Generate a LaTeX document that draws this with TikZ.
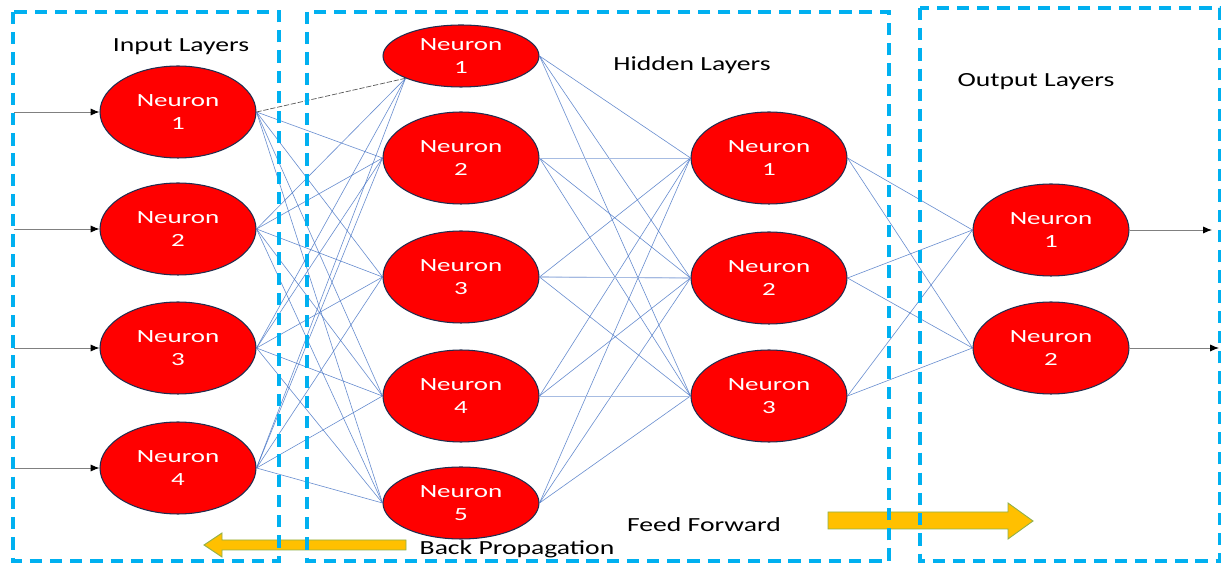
\documentclass[tikz,border=0pt]{standalone}
\usepackage{graphicx}
\usepackage{fontspec}
\setmainfont{Carlito}
\usetikzlibrary{shapes.geometric,arrows.meta}

\definecolor{nred}{HTML}{FF0000}
\definecolor{nrim}{HTML}{1F2D4F}
\definecolor{boxblue}{HTML}{00B0F0}
\definecolor{wire}{HTML}{4472C4}
\definecolor{wirelight}{HTML}{A7BCE2}
\definecolor{flowfill}{HTML}{FFC000}
\definecolor{flowrim}{HTML}{8FB04A}

% two-line neuron caption, slightly widened like the original lettering
\newcommand{\neurtxt}[1]{\scalebox{1.45}[1]{Neuron}\\\scalebox{1.45}[1]{#1}}
\newcommand{\widetxt}[1]{\scalebox{1.38}[1]{#1}}

\begin{document}
\begin{tikzpicture}[x=0.02cm,y=-0.02cm,
  neuron/.style={ellipse, draw=nrim, fill=nred, line width=0.6pt,
    minimum width=3.12cm, minimum height=1.84cm, inner sep=0pt,
    text=white, align=center, font=\fontsize{10.6}{13}\selectfont},
  layerbox/.style={draw=boxblue, line width=1.8pt, dash pattern=on 7pt off 4.5pt},
  conn/.style={draw=wire, line width=0.35pt, opacity=0.8},
  connlight/.style={draw=wirelight, line width=0.45pt},
  feed/.style={draw=black!50, line width=0.5pt,
    -{Latex[length=5pt,width=4pt,color=black]}},
  flow/.style={fill=flowfill, draw=flowrim, line width=0.5pt},
  lab/.style={anchor=base, inner sep=0pt, text=black, font=\fontsize{11.4}{13.7}\selectfont}
]
\useasboundingbox (0,0) rectangle (1221,563);

% input layer
\node[neuron] (I1) at (178,112) {\neurtxt{1}};
\node[neuron] (I2) at (178,229) {\neurtxt{2}};
\node[neuron] (I3) at (178,348) {\neurtxt{3}};
\node[neuron] (I4) at (178,468) {\neurtxt{4}};

% first hidden layer
\node[neuron, minimum height=1.24cm] (H1) at (461,56) {\neurtxt{1}};
\node[neuron] (H2) at (461,158) {\neurtxt{2}};
\node[neuron] (H3) at (461,277) {\neurtxt{3}};
\node[neuron] (H4) at (461,396) {\neurtxt{4}};
\node[neuron, minimum height=1.44cm] (H5) at (461,503) {\neurtxt{5}};

% second hidden layer
\node[neuron] (K1) at (769,158) {\neurtxt{1}};
\node[neuron] (K2) at (769,278) {\neurtxt{2}};
\node[neuron] (K3) at (769,396) {\neurtxt{3}};

% output layer
\node[neuron] (O1) at (1051,230) {\neurtxt{1}};
\node[neuron] (O2) at (1051,348) {\neurtxt{2}};

% input -> first hidden layer
\foreach \i in {2,3,4} \draw[conn] (I\i.east) -- (H1.south west);
\draw[draw=black!65, line width=0.4pt, dash pattern=on 3pt off 1pt] (I1.east) -- (H1.south west);
\foreach \i in {1,2,3,4}
  \foreach \j in {2,3,4,5}
    \draw[conn] (I\i.east) -- (H\j.west);

% first hidden -> second hidden layer
\foreach \i in {1,2,3,4,5}
  \foreach \j in {1,2,3}
    \draw[conn] (H\i.east) -- (K\j.west);
\draw[connlight] (H2.east) -- (K1.west);
\draw[connlight] (H3.east) -- (K2.west);
\draw[connlight] (H4.east) -- (K3.west);

% second hidden -> output layer
\foreach \i in {1,2,3}
  \foreach \j in {1,2}
    \draw[conn] (K\i.east) -- (O\j.west);

% signals entering and leaving the network
\coordinate (in1) at (14,112);
\coordinate (in2) at (14,229);
\coordinate (in3) at (14,348);
\coordinate (in4) at (14,468);
\coordinate (out1) at (1212,230);
\coordinate (out2) at (1219,348);
\foreach \i in {1,2,3,4} \draw[feed] (in\i) -- (I\i.west);
\draw[feed] (O1.east) -- (out1);
\draw[feed] (O2.east) -- (out2);

% direction arrows
\draw[flow] (828,512) -- (1008,512) -- (1008,503) -- (1033,521) -- (1008,539)
  -- (1008,529) -- (828,529) -- cycle;
\draw[flow] (406,540) -- (222,540) -- (222,533) -- (204,545) -- (222,557)
  -- (222,550) -- (406,550) -- cycle;

% layer frames
\draw[layerbox] (13,12) rectangle (279,561);
\draw[layerbox] (307,12) rectangle (889,561);
\draw[layerbox] (920,8) rectangle (1220,561);

% captions
\node[lab] (tin) at (181,51.5) {\widetxt{Input Layers}};
\node[lab] (thid) at (692,71) {\widetxt{Hidden Layers}};
\node[lab] (tout) at (1036,86.5) {\widetxt{Output Layers}};
\node[lab] (tff) at (704,531.5) {\widetxt{Feed Forward}};
\node[lab] (tbp) at (517,554.5) {\widetxt{Back Propagation}};
\end{tikzpicture}
\end{document}
